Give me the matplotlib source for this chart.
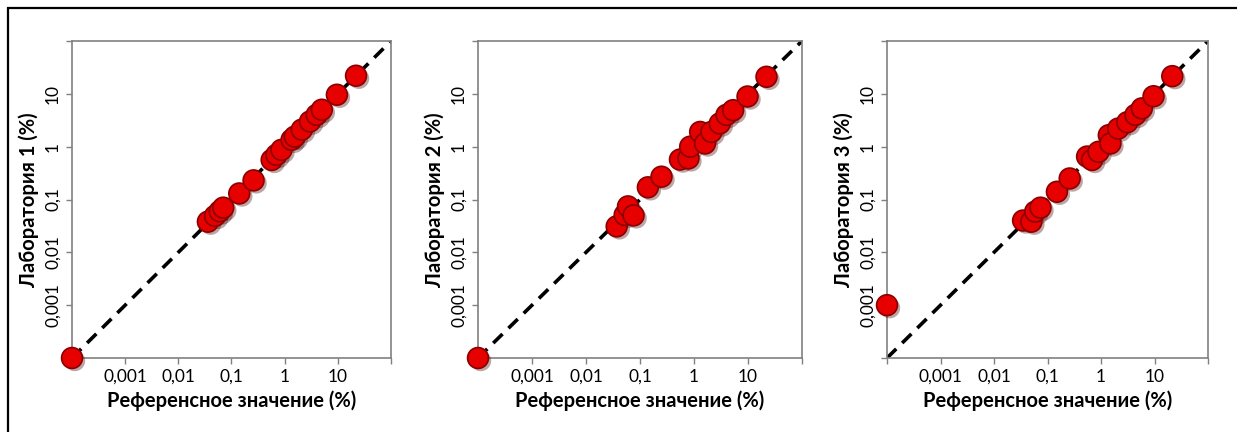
import matplotlib
matplotlib.use("Agg")
import matplotlib.pyplot as plt
import matplotlib.patheffects as pe
from matplotlib.ticker import FixedLocator, FixedFormatter, NullLocator

ref1 = [0.0001, 0.036, 0.049, 0.06, 0.07, 0.14, 0.26, 0.57, 0.7, 0.87, 1.35, 1.55, 2.1, 3.0, 4.0, 5.0, 9.6, 22]
lab1 = [0.0001, 0.038, 0.049, 0.06, 0.07, 0.13, 0.23, 0.56, 0.7, 0.87, 1.35, 1.55, 2.1, 3.0, 4.0, 5.0, 9.6, 22]

ref2 = [0.0001, 0.037, 0.052, 0.06, 0.076, 0.14, 0.25, 0.55, 0.79, 0.85, 1.3, 1.6, 2.1, 3.0, 4.0, 5.3, 9.8, 22]
lab2 = [0.0001, 0.031, 0.051, 0.074, 0.05, 0.17, 0.27, 0.57, 0.6, 1.0, 1.9, 1.15, 1.9, 2.75, 4.0, 4.9, 8.9, 21]

ref3 = [0.0001, 0.035, 0.05, 0.059, 0.074, 0.15, 0.26, 0.55, 0.68, 0.9, 1.4, 1.5, 2.1, 3.1, 4.4, 5.8, 9.6, 21.5]
lab3 = [0.001, 0.04, 0.038, 0.059, 0.07, 0.14, 0.25, 0.65, 0.56, 0.8, 1.65, 1.15, 2.2, 2.9, 4.0, 5.3, 9.0, 21.6]

ylabels = ["Лаборатория 1 (%)", "Лаборатория 2 (%)", "Лаборатория 3 (%)"]
xlabel = "Референсное значение (%)"

decades = [0.001, 0.01, 0.1, 1, 10]
decade_labels = ["0,001", "0,01", "0,1", "1", "10"]
lo, hi = 0.0001, 100

plt.rcParams["font.family"] = ["Lato", "DejaVu Sans"]

W, H = 1237, 432
fig = plt.figure(figsize=(W / 100, H / 100), dpi=100)

# outer frame (only top and left edges visible in the source image)
frame = plt.Rectangle((8 / W, -0.05), 1.1, 1 - 8 / H + 0.05, transform=fig.transFigure,
                      fill=False, edgecolor="black", linewidth=1.6)
fig.patches.append(frame)

# axes boxes in pixels: left, right, top, bottom
boxes = [(72, 391, 41, 358), (478, 802, 41, 358), (887, 1208, 41, 358)]
series = [(ref1, lab1), (ref2, lab2), (ref3, lab3)]

for (l, r, t, b), (xs, ys), ylab in zip(boxes, series, ylabels):
    ax = fig.add_axes([l / W, 1 - b / H, (r - l) / W, (b - t) / H])
    ax.set_xscale("log")
    ax.set_yscale("log")
    ax.set_xlim(lo, hi)
    ax.set_ylim(lo, hi)

    ax.plot([lo, hi], [lo, hi], color="black", linewidth=2.6,
            linestyle=(0, (3.6, 2.3)), zorder=2)

    ax.plot(xs, ys, linestyle="none", marker="o", markersize=15,
            markerfacecolor="#e60000", markeredgecolor="#8a0000",
            markeredgewidth=1.2, clip_on=False, zorder=3,
            path_effects=[pe.SimplePatchShadow(offset=(2, -2), alpha=0.35),
                          pe.Normal()])

    ax.xaxis.set_major_locator(FixedLocator([lo] + decades + [hi]))
    ax.xaxis.set_major_formatter(FixedFormatter([""] + decade_labels + [""]))
    ax.yaxis.set_major_locator(FixedLocator([lo] + decades + [hi]))
    ax.yaxis.set_major_formatter(FixedFormatter([""] + decade_labels + [""]))
    ax.xaxis.set_minor_locator(NullLocator())
    ax.yaxis.set_minor_locator(NullLocator())

    for tl in ax.get_yticklabels():
        tl.set_rotation(90)
        tl.set_va("center")

    ax.tick_params(direction="out", length=4, width=1, color="#808080",
                   labelsize=12.5, labelcolor="black", pad=4)
    for sp in ax.spines.values():
        sp.set_color("#808080")
        sp.set_linewidth(1.2)

    ax.set_xlabel(xlabel, fontsize=14.5, fontweight="bold", labelpad=4)
    ax.set_ylabel(ylab, fontsize=14.5, fontweight="bold", labelpad=4)

fig.savefig("out.png", dpi=100)
